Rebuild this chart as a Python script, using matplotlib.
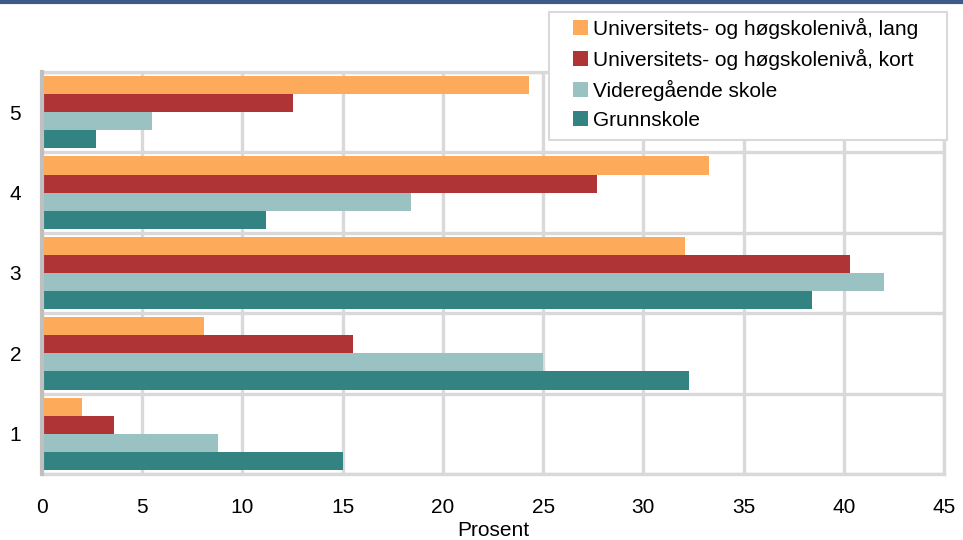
import matplotlib
matplotlib.use("Agg")
import matplotlib.pyplot as plt
import numpy as np
from matplotlib.lines import Line2D
from matplotlib.patches import Rectangle

plt.rcParams['font.family'] = ['Liberation Sans', 'DejaVu Sans']

categories = ["1", "2", "3", "4", "5"]
series_names = ["Universitets- og høgskolenivå, lang",
                "Universitets- og høgskolenivå, kort",
                "Videregående skole",
                "Grunnskole"]
lang = [2.0, 8.1, 32.1, 33.3, 24.3]
kort = [3.6, 15.5, 40.3, 27.7, 12.5]
vgs = [8.8, 25.0, 42.0, 18.4, 5.5]
grunn = [15.0, 32.3, 38.4, 11.2, 2.7]
colors = ["#FDAA5B", "#AE3435", "#9BC2C2", "#338383"]
xticks = [0, 5, 10, 15, 20, 25, 30, 35, 40, 45]

fig = plt.figure(figsize=(9.63, 5.40), dpi=100)
ax = fig.add_axes([42/963, 1-474/540, (944-42)/963, (474-72)/540])

grid_c = "#D9D9D9"
y = np.arange(1, len(categories)+1)
h = 0.225
data = [lang, kort, vgs, grunn]
offsets = [1.5*h, 0.5*h, -0.5*h, -1.5*h]
handles = []
for vals, off, c, name in zip(data, offsets, colors, series_names):
    b = ax.barh(y + off, vals, height=h, color=c, label=name, zorder=3)
    handles.append(b)

ax.set_xlim(0, 45)
ax.set_ylim(0.5, 5.5)
ax.set_xticks(xticks)
ax.set_yticks(y)
ax.set_yticklabels(categories)
ax.set_yticks(np.arange(0.5, 5.6, 1.0), minor=True)
ax.grid(axis='x', which='major', color=grid_c, lw=2.4, zorder=0)
ax.grid(axis='y', which='minor', color=grid_c, lw=2.4, zorder=0)
ax.tick_params(axis='both', which='both', length=0, labelsize=15, colors='black')
ax.tick_params(axis='x', pad=17)
ax.tick_params(axis='y', pad=15)
for s in ['top', 'right', 'bottom']:
    ax.spines[s].set_color(grid_c)
    ax.spines[s].set_linewidth(2.4)
ax.spines['left'].set_color("#BFBFBF")
ax.spines['left'].set_linewidth(3)
ax.spines['left'].set_zorder(4)
ax.set_xlabel("Prosent", fontsize=15, labelpad=3)

# legend frame
frame = Rectangle((549/963, 1-140/540), (947-549)/963, 128/540,
                  transform=fig.transFigure, facecolor='white',
                  edgecolor=grid_c, lw=1.5, zorder=9)
fig.add_artist(frame)
leg = fig.legend(handles, series_names, loc='upper left',
                 bbox_to_anchor=(573/963, 1-18/540),
                 bbox_transform=fig.transFigure,
                 fontsize=15, frameon=False, handlelength=0.72,
                 handleheight=0.72, handletextpad=0.25, labelspacing=0.48,
                 borderpad=0, borderaxespad=0)
leg.set_zorder(10)

fig.add_artist(Line2D([0, 1], [1-2/540, 1-2/540], transform=fig.transFigure,
                      color="#3F5A8A", lw=3))

fig.savefig("out.png", dpi=100)
